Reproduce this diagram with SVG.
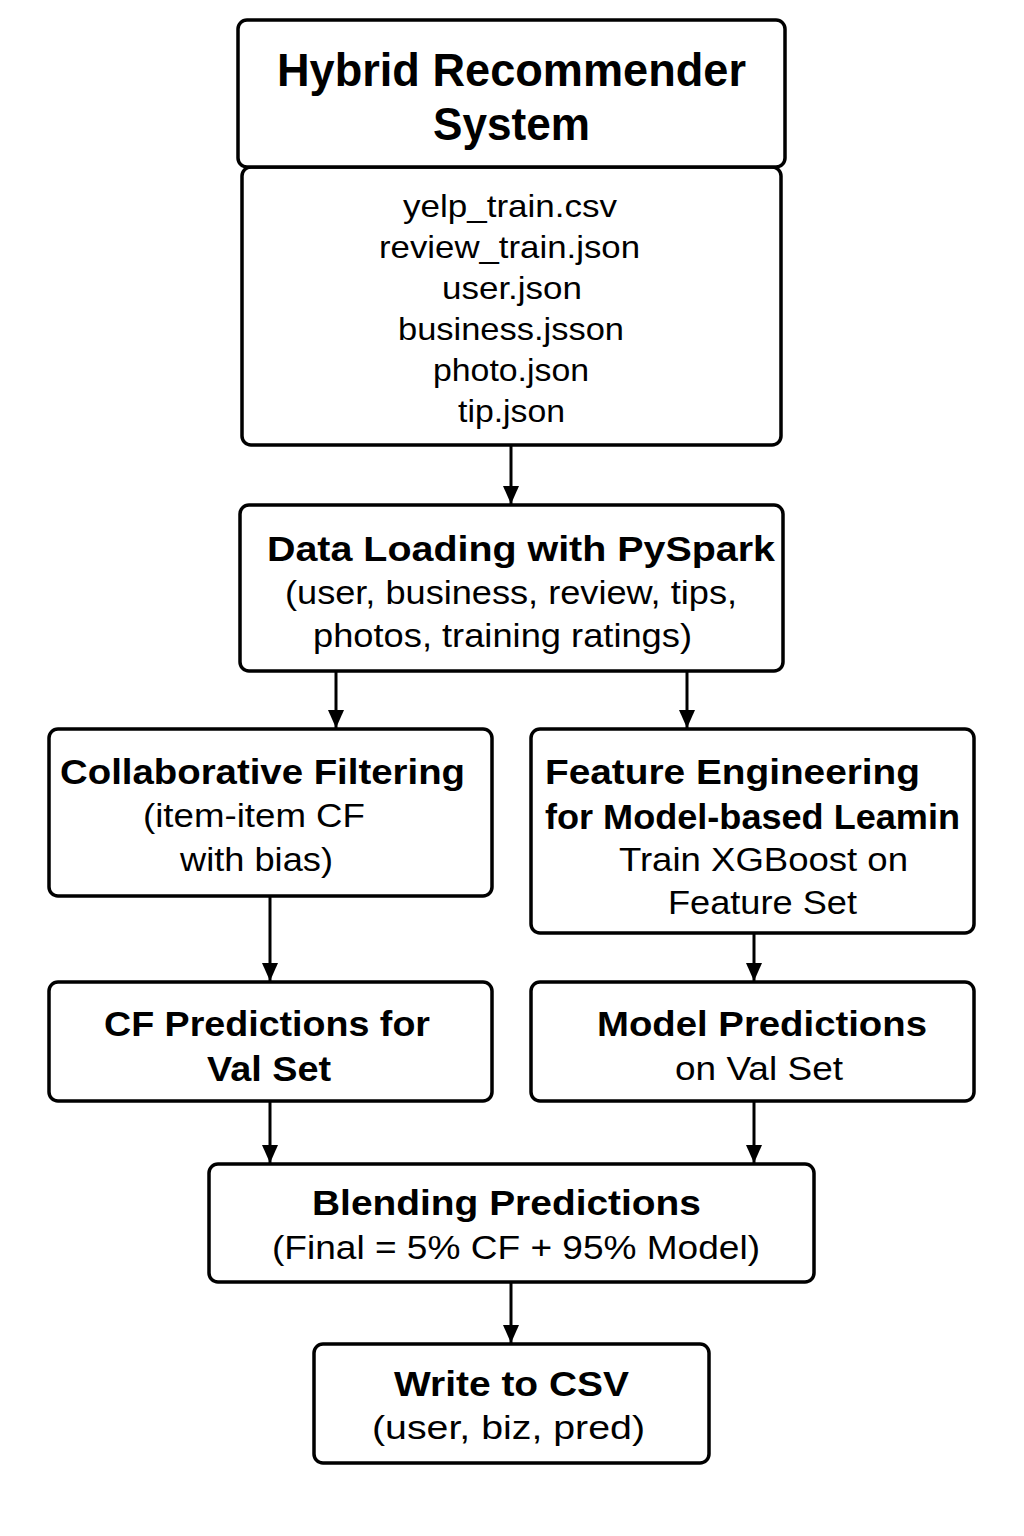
<svg xmlns="http://www.w3.org/2000/svg" width="1024" height="1536" viewBox="0 0 1024 1536">
<style>
.box{fill:#fff;stroke:#000;stroke-width:3.5}
.t{font-family:"Liberation Sans",Arial,sans-serif;fill:#000}
.h{font-size:47px;font-weight:bold}
.b{font-size:35px;font-weight:bold}
.r{font-size:33px}
.f{font-size:32px}
.c{stroke:#000;stroke-width:3;fill:none}
</style>
<defs>
<marker id="ah" markerUnits="userSpaceOnUse" markerWidth="20" markerHeight="18" refX="19" refY="9" orient="auto" viewBox="0 0 20 18">
<path d="M1,1 L19,9 L1,17 Z" fill="#000"/>
</marker>
</defs>
<rect width="1024" height="1536" fill="#fff"/>
<g id="connectors">
<line class="c" x1="511" y1="446" x2="511" y2="504" marker-end="url(#ah)"/>
<line class="c" x1="336" y1="672" x2="336" y2="728" marker-end="url(#ah)"/>
<line class="c" x1="687" y1="672" x2="687" y2="728" marker-end="url(#ah)"/>
<line class="c" x1="270" y1="897" x2="270" y2="981" marker-end="url(#ah)"/>
<line class="c" x1="754" y1="934" x2="754" y2="981" marker-end="url(#ah)"/>
<line class="c" x1="270" y1="1102" x2="270" y2="1163" marker-end="url(#ah)"/>
<line class="c" x1="754" y1="1102" x2="754" y2="1163" marker-end="url(#ah)"/>
<line class="c" x1="511" y1="1283" x2="511" y2="1343" marker-end="url(#ah)"/>
</g>
<g id="hybrid">
<rect class="box" x="242" y="167" width="539" height="278" rx="9"/>
<rect class="box" x="238" y="20" width="547" height="147" rx="9"/>
<text class="t h" x="277" y="86" textLength="469" lengthAdjust="spacingAndGlyphs">Hybrid Recommender</text>
<text class="t h" x="433" y="140" textLength="157" lengthAdjust="spacingAndGlyphs">System</text>
<text class="t f" x="403" y="217" textLength="214" lengthAdjust="spacingAndGlyphs">yelp_train.csv</text>
<text class="t f" x="379" y="258" textLength="261" lengthAdjust="spacingAndGlyphs">review_train.json</text>
<text class="t f" x="442" y="299" textLength="140" lengthAdjust="spacingAndGlyphs">user.json</text>
<text class="t f" x="398" y="340" textLength="226" lengthAdjust="spacingAndGlyphs">business.jsson</text>
<text class="t f" x="433" y="381" textLength="156" lengthAdjust="spacingAndGlyphs">photo.json</text>
<text class="t f" x="458" y="422" textLength="107" lengthAdjust="spacingAndGlyphs">tip.json</text>
</g>
<g id="dataloading">
<rect class="box" x="240" y="505" width="543" height="166" rx="9"/>
<text class="t b" x="267" y="561" textLength="508" lengthAdjust="spacingAndGlyphs">Data Loading with PySpark</text>
<text class="t r" x="285" y="604" textLength="452" lengthAdjust="spacingAndGlyphs">(user, business, review, tips,</text>
<text class="t r" x="313" y="647" textLength="379" lengthAdjust="spacingAndGlyphs">photos, training ratings)</text>
</g>
<g id="cf">
<rect class="box" x="49" y="729" width="443" height="167" rx="9"/>
<text class="t b" x="60" y="784" textLength="405" lengthAdjust="spacingAndGlyphs">Collaborative Filtering</text>
<text class="t r" x="143" y="827" textLength="222" lengthAdjust="spacingAndGlyphs">(item-item CF</text>
<text class="t r" x="180" y="871" textLength="153" lengthAdjust="spacingAndGlyphs">with bias)</text>
</g>
<g id="fe">
<rect class="box" x="531" y="729" width="443" height="204" rx="9"/>
<text class="t b" x="545" y="784" textLength="375" lengthAdjust="spacingAndGlyphs">Feature Engineering</text>
<text class="t b" x="545" y="829" textLength="415" lengthAdjust="spacingAndGlyphs">for Model-based Leamin</text>
<text class="t r" x="619" y="871" textLength="289" lengthAdjust="spacingAndGlyphs">Train XGBoost on</text>
<text class="t r" x="668" y="914" textLength="189" lengthAdjust="spacingAndGlyphs">Feature Set</text>
</g>
<g id="cfpred">
<rect class="box" x="49" y="982" width="443" height="119" rx="9"/>
<text class="t b" x="104" y="1036" textLength="326" lengthAdjust="spacingAndGlyphs">CF Predictions for</text>
<text class="t b" x="207" y="1081" textLength="124" lengthAdjust="spacingAndGlyphs">Val Set</text>
</g>
<g id="modelpred">
<rect class="box" x="531" y="982" width="443" height="119" rx="9"/>
<text class="t b" x="597" y="1036" textLength="330" lengthAdjust="spacingAndGlyphs">Model Predictions</text>
<text class="t r" x="675" y="1080" textLength="168" lengthAdjust="spacingAndGlyphs">on Val Set</text>
</g>
<g id="blending">
<rect class="box" x="209" y="1164" width="605" height="118" rx="9"/>
<text class="t b" x="312" y="1215" textLength="389" lengthAdjust="spacingAndGlyphs">Blending Predictions</text>
<text class="t r" x="272" y="1259" textLength="488" lengthAdjust="spacingAndGlyphs">(Final = 5% CF + 95% Model)</text>
</g>
<g id="write">
<rect class="box" x="314" y="1344" width="395" height="119" rx="9"/>
<text class="t b" x="394" y="1396" textLength="235" lengthAdjust="spacingAndGlyphs">Write to CSV</text>
<text class="t r" x="372" y="1439" textLength="273" lengthAdjust="spacingAndGlyphs">(user, biz, pred)</text>
</g>
</svg>
